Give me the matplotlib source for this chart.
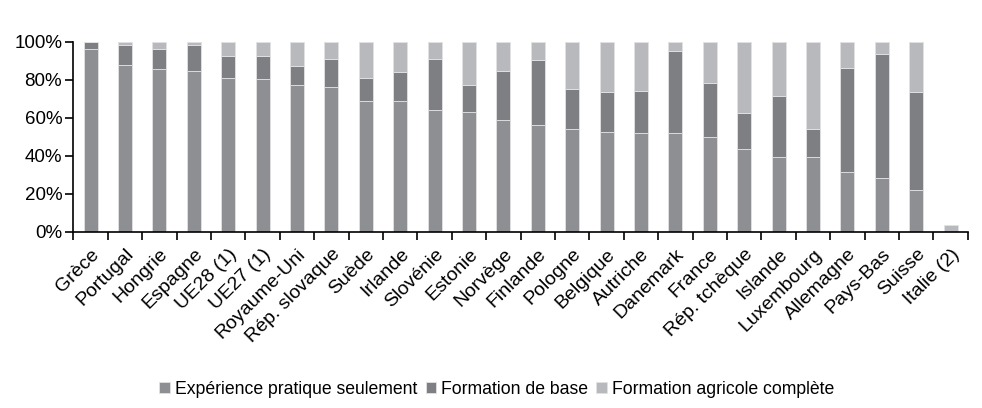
import matplotlib
matplotlib.use("Agg")
import matplotlib.pyplot as plt
import numpy as np

plt.rcParams['font.family'] = ['Liberation Sans', 'DejaVu Sans']

pays = ["Grèce", "Portugal", "Hongrie", "Espagne", "UE28 (1)", "UE27 (1)",
        "Royaume-Uni", "Rép. slovaque", "Suède", "Irlande", "Slovénie", "Estonie",
        "Norvège", "Finlande", "Pologne", "Belgique", "Autriche", "Danemark",
        "France", "Rép. tchèque", "Islande", "Luxembourg", "Allemagne",
        "Pays-Bas", "Suisse", "Italie (2)"]

# parts en % des exploitants
experience = [96.3, 87.9, 85.6, 84.6, 80.7, 80.4, 77.0, 76.1, 68.8, 68.8, 64.0, 63.2,
              58.8, 56.1, 54.0, 52.5, 51.8, 51.8, 49.6, 43.5, 39.5, 39.3, 31.4,
              28.2, 21.9, 0.0]
base = [3.7, 10.5, 10.7, 13.8, 11.8, 12.1, 10.4, 15.0, 12.1, 15.1, 26.9, 13.8,
        25.9, 34.4, 21.1, 20.8, 22.2, 43.3, 28.6, 19.0, 32.1, 14.7, 54.9,
        65.3, 51.6, 0.0]
complete = [0.0, 1.6, 3.7, 1.6, 7.5, 7.5, 12.6, 8.9, 19.1, 16.1, 9.1, 23.0,
            15.3, 9.5, 24.9, 26.7, 26.0, 4.9, 21.8, 37.5, 28.4, 46.0, 13.7,
            6.5, 26.5, 3.7]

series = [("Expérience pratique seulement", experience, "#8e8f93"),
          ("Formation de base", base, "#7e7f83"),
          ("Formation agricole complète", complete, "#b8b9bc")]

fig = plt.figure(figsize=(9.82, 4.08), dpi=100)
ax = fig.add_axes([0.0747, 0.432, 0.9108, 0.466])

x = np.arange(len(pays))
bas = np.zeros(len(pays))
for nom, vals, coul in series:
    vals = np.array(vals)
    ax.bar(x, vals, 0.41, bottom=bas, color=coul, edgecolor="#e2e2e4",
           linewidth=0.6, label=nom)
    bas += vals

ax.set_xlim(-0.5, len(pays) - 0.5)
ax.set_ylim(0, 100)
ax.set_yticks(np.arange(0, 101, 20))
ax.set_yticklabels([f"{v}%" for v in range(0, 101, 20)], fontsize=13.5)

# graduations aux limites des categories, noms au centre
ax.set_xticks(np.arange(-0.5, len(pays), 1.0))
ax.set_xticklabels([])
ax.set_xticks(x, minor=True)
ax.set_xticklabels(pays, minor=True, rotation=45, ha="right",
                   rotation_mode="anchor", fontsize=14)
ax.tick_params(axis="x", which="minor", length=0, pad=10)
ax.tick_params(axis="x", which="major", length=6, width=1.2, direction="out")
ax.tick_params(axis="y", length=6, width=1.2, direction="out", pad=2)

for s in ["top", "right"]:
    ax.spines[s].set_visible(False)
for s in ["left", "bottom"]:
    ax.spines[s].set_linewidth(1.2)

fig.legend(loc="center", bbox_to_anchor=(0.506, 0.046), ncol=3, frameon=False,
           fontsize=12.7, handlelength=0.6, handleheight=0.6, handletextpad=0.3,
           columnspacing=0.45)

fig.savefig("out.png", dpi=100)
